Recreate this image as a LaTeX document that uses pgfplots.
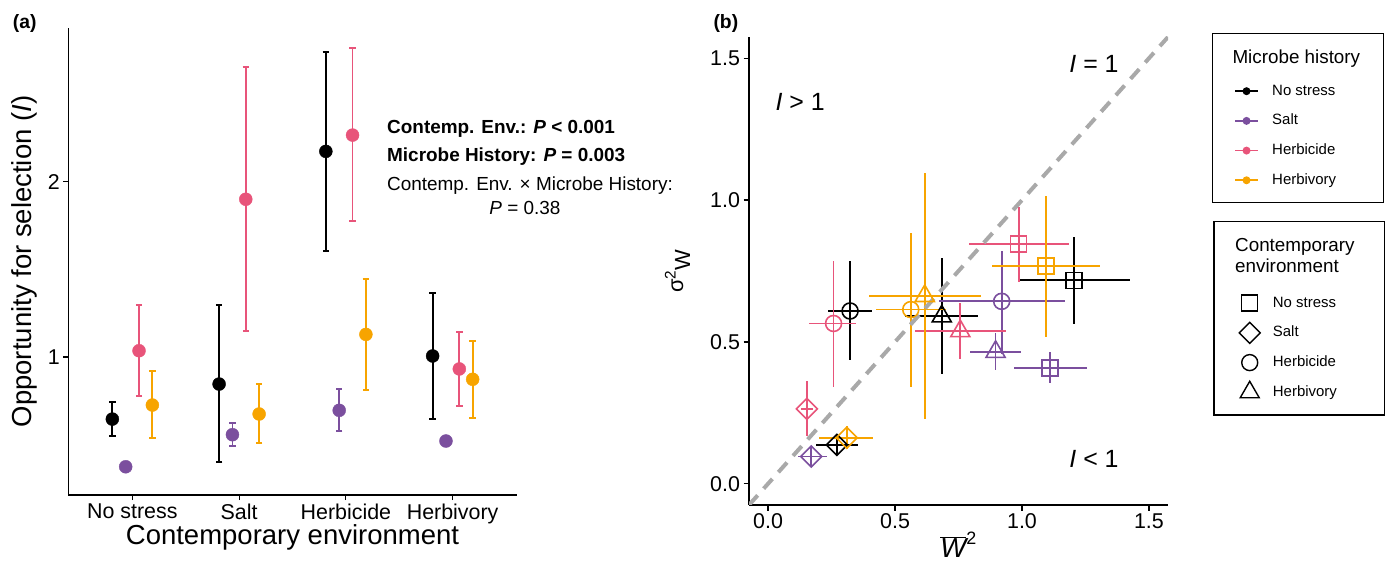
\documentclass[border=0pt]{standalone}
\usepackage{fontspec}
\setmainfont{Liberation Sans}
\usepackage{pgfplots}
\usepackage{pgfplotstable}
\pgfplotsset{compat=1.18}

\definecolor{hNo}{HTML}{000000}
\definecolor{hSalt}{HTML}{7B4F9E}
\definecolor{hHerb}{HTML}{E8547A}
\definecolor{hHbv}{HTML}{F7A400}
\definecolor{refline}{HTML}{A9A9A9}

\newcommand{\fs}[1]{\fontsize{#1}{#1}\selectfont}

% panel (a): opportunity for selection, per contemporary environment (1-4)
\pgfplotstableread{
env y lo hi
1 0.646 0.549 0.743
2 0.846 0.399 1.297
3 2.173 1.606 2.742
4 1.006 0.646 1.367
}\aNo
\pgfplotstableread{
env y lo hi
1 0.374 0.355 0.393
2 0.557 0.494 0.622
3 0.696 0.576 0.817
4 0.521 0.502 0.540
}\aSalt
\pgfplotstableread{
env y lo hi
1 1.036 0.778 1.298
2 1.900 1.147 2.654
3 2.266 1.778 2.761
4 0.932 0.720 1.141
}\aHerb
\pgfplotstableread{
env y lo hi
1 0.726 0.540 0.920
2 0.675 0.508 0.844
3 1.129 0.813 1.445
4 0.873 0.654 1.093
}\aHbv

% panel (b): rows = no stress, salt, herbicide, herbivory environment
\pgfplotstableread{
x y xlo xhi ylo yhi
1.204 0.717 0.987 1.424 0.562 0.869
0.271 0.137 0.190 0.355 0.100 0.172
0.323 0.609 0.238 0.408 0.436 0.785
0.684 0.590 0.541 0.828 0.386 0.797
}\bNo
\pgfplotstableread{
x y xlo xhi ylo yhi
1.111 0.409 0.968 1.255 0.354 0.463
0.170 0.096 0.116 0.231 0.059 0.134
0.920 0.643 0.673 1.169 0.459 0.819
0.896 0.465 0.794 0.996 0.401 0.530
}\bSalt
\pgfplotstableread{
x y xlo xhi ylo yhi
0.987 0.846 0.790 1.187 0.711 0.975
0.153 0.264 0.130 0.176 0.169 0.362
0.258 0.565 0.163 0.346 0.342 0.785
0.757 0.538 0.578 0.938 0.438 0.637
}\bHerb
\pgfplotstableread{
x y xlo xhi ylo yhi
1.094 0.767 0.883 1.306 0.518 1.015
0.310 0.162 0.201 0.414 0.122 0.204
0.562 0.614 0.425 0.702 0.342 0.883
0.617 0.662 0.397 0.837 0.228 1.094
}\bHbv

\pgfplotsset{
  table/aerr/.style={y=y, y error plus expr=\thisrow{hi}-\thisrow{y}, y error minus expr=\thisrow{y}-\thisrow{lo}},
  table/bxy/.style={x=x, y=y,
    x error plus expr=\thisrow{xhi}-\thisrow{x}, x error minus expr=\thisrow{x}-\thisrow{xlo},
    y error plus expr=\thisrow{yhi}-\thisrow{y}, y error minus expr=\thisrow{y}-\thisrow{ylo}},
  onlyrow/.style={x filter/.code={\ifnum\coordindex=#1\else\def\pgfmathresult{}\fi}},
  apt/.style={only marks, mark=*, mark size=6.5bp, line width=1.8bp,
    mark options={line width=0.4bp},
    error bars/.cd, y dir=both, y explicit,
    error bar style={line width=1.8bp},
    error mark options={line width=1.8bp, mark size=3.2bp, rotate=90},
    /pgfplots/.cd},
  bpt/.style={only marks, line width=1.6bp,
    error bars/.cd, x dir=both, y dir=both, x explicit, y explicit,
    error bar style={line width=1.8bp},
    error mark=none, /pgfplots/.cd},
  sq/.style={mark=square, mark size=8bp},
  dm/.style={mark=square, mark size=7.4bp, /tikz/every mark/.append style={rotate=45}},
  ci/.style={mark=o, mark size=8bp},
  tr/.style={mark=triangle, mark size=11bp},
}

\begin{document}
\begin{tikzpicture}[txt/.style={inner sep=0pt, anchor=base west}]
\useasboundingbox (0,0) rectangle (1392bp,561bp);

% ---------- panel (a)
\begin{axis}[
  at={(68.3bp,66bp)}, anchor=south west, scale only axis,
  width=448.4bp, height=467bp,
  xmin=0.4, xmax=4.6, ymin=0.213, ymax=2.877,
  axis lines=left, axis line style={-, line width=1.3bp},
  xtick={1,2,3,4}, xticklabels={No stress,Salt,Herbicide,Herbivory},
  ytick={1,2},
  tick align=outside, major tick length=5bp, tick style={line width=1.2bp, black},
  tick label style={font=\fs{21.5}},
  /pgf/number format/assume math mode=true,
  xlabel={Contemporary environment},
  ylabel={Opportunity for selection (\textit{I})},
  label style={font=\fs{27.6}},
  xlabel style={at={(axis description cs:0.5,-0.105)}, anchor=base},
  ylabel style={at={(axis description cs:-0.081,0.5)}, anchor=base},
  clip=false,
]
\addplot[apt, color=hNo]   table[aerr, x expr=\thisrow{env}-0.1875] {\aNo};
\addplot[apt, color=hSalt] table[aerr, x expr=\thisrow{env}-0.0625] {\aSalt};
\addplot[apt, color=hHerb] table[aerr, x expr=\thisrow{env}+0.0625] {\aHerb};
\addplot[apt, color=hHbv]  table[aerr, x expr=\thisrow{env}+0.1875] {\aHbv};
\end{axis}

\node[txt, font=\fs{19.4}\bfseries] at (12.7bp,532bp) {(a)};
\node[txt, font=\fs{19}\bfseries] at (387bp,427bp) {Contemp. Env.: \textit{P} < 0.001};
\node[txt, font=\fs{19}\bfseries] at (387bp,399bp) {Microbe History: \textit{P} = 0.003};
\node[txt, font=\fs{19}] at (387bp,370bp) {Contemp. Env. × Microbe History:};
\node[inner sep=0pt, anchor=base, font=\fs{19}] at (525bp,346bp) {\textit{P} = 0.38};

% ---------- panel (b)
\begin{axis}[
  at={(749bp,56bp)}, anchor=south west, scale only axis,
  width=419bp, height=468bp,
  xmin=-0.075, xmax=1.575, ymin=-0.075, ymax=1.575,
  axis lines=left, axis line style={-, line width=1.3bp},
  xtick={0,0.5,1,1.5}, ytick={0,0.5,1,1.5},
  tick align=outside, major tick length=5.5bp, tick style={line width=1.2bp, black},
  tick label style={font=\fs{21.5}},
  /pgf/number format/assume math mode=true,
  /pgf/number format/fixed, /pgf/number format/fixed zerofill, /pgf/number format/precision=1,
  xlabel={$\overline{\mbox{\itshape W}}^{\mbox{\fs{18}2}}$},
  ylabel={σ\textsuperscript{2}\raisebox{-7bp}{W}},
  xlabel style={font=\fs{27.6}, at={(axis description cs:0.5,-0.113)}, anchor=base},
  ylabel style={font=\fs{22}, at={(axis description cs:-0.1575,0.5)}, anchor=base},
]
\addplot[bpt, color=hNo, sq, onlyrow=0] table[bxy] {\bNo};
\addplot[bpt, color=hNo, dm, onlyrow=1] table[bxy] {\bNo};
\addplot[bpt, color=hNo, ci, onlyrow=2] table[bxy] {\bNo};
\addplot[bpt, color=hNo, tr, onlyrow=3] table[bxy] {\bNo};
\addplot[bpt, color=hSalt, sq, onlyrow=0] table[bxy] {\bSalt};
\addplot[bpt, color=hSalt, dm, onlyrow=1] table[bxy] {\bSalt};
\addplot[bpt, color=hSalt, ci, onlyrow=2] table[bxy] {\bSalt};
\addplot[bpt, color=hSalt, tr, onlyrow=3] table[bxy] {\bSalt};
\addplot[bpt, color=hHerb, sq, onlyrow=0] table[bxy] {\bHerb};
\addplot[bpt, color=hHerb, dm, onlyrow=1] table[bxy] {\bHerb};
\addplot[bpt, color=hHerb, ci, onlyrow=2] table[bxy] {\bHerb};
\addplot[bpt, color=hHerb, tr, onlyrow=3] table[bxy] {\bHerb};
\addplot[bpt, color=hHbv, sq, onlyrow=0] table[bxy] {\bHbv};
\addplot[bpt, color=hHbv, dm, onlyrow=1] table[bxy] {\bHbv};
\addplot[bpt, color=hHbv, ci, onlyrow=2] table[bxy] {\bHbv};
\addplot[bpt, color=hHbv, tr, onlyrow=3] table[bxy] {\bHbv};
\addplot[refline, line width=4bp, dash pattern=on 13bp off 9bp, no marks] coordinates {(-0.075,-0.075) (1.575,1.575)};
\node[txt, font=\fs{25}] at (axis cs:1.186,1.449) {\textit{I} = 1};
\node[txt, font=\fs{25}] at (axis cs:0.029,1.315) {\textit{I} > 1};
\node[txt, font=\fs{25}] at (axis cs:1.186,0.056) {\textit{I} < 1};
\end{axis}

\node[txt, font=\fs{19.4}\bfseries] at (713.3bp,532bp) {(b)};

% ---------- legends
\draw[line width=1.3bp] (1212.7bp,358.3bp) rectangle (1383.3bp,527.7bp);
\node[txt, font=\fs{18.9}] at (1232.3bp,497.5bp) {Microbe history};
\draw[line width=1.3bp] (1214bp,146bp) rectangle (1384.3bp,339.3bp);
\node[txt, font=\fs{18.9}] at (1235bp,309bp) {Contemporary};
\node[txt, font=\fs{18.9}] at (1235bp,288bp) {environment};

\begin{axis}[
  at={(0bp,0bp)}, anchor=south west, scale only axis, width=1392bp, height=561bp,
  xmin=0, xmax=1392, ymin=0, ymax=561, hide axis,
  legend cell align=left,
  legend style={at={(axis cs:1234,477)}, anchor=north west, draw=none, fill=none,
    inner sep=0pt, row sep=15.7bp, font=\fs{15},
    nodes={inner sep=0pt, text height=11bp, text depth=3bp},
    /tikz/every odd column/.append style={column sep=13.4bp}},
  legend image code/.code={
    \draw[#1] (0bp,0bp) -- (23bp,0bp);
    \fill[#1, draw=none] (11.5bp,0bp) circle (4bp);},
]
\addlegendimage{color=hNo, line width=1.6bp}
\addlegendentry{No stress}
\addlegendimage{color=hSalt, line width=1.6bp}
\addlegendentry{Salt}
\addlegendimage{color=hHerb, line width=1.6bp}
\addlegendentry{Herbicide}
\addlegendimage{color=hHbv, line width=1.6bp}
\addlegendentry{Herbivory}
\end{axis}

\begin{axis}[
  at={(0bp,0bp)}, anchor=south west, scale only axis, width=1392bp, height=561bp,
  xmin=0, xmax=1392, ymin=0, ymax=561, hide axis,
  legend cell align=left,
  legend style={at={(axis cs:1238,265)}, anchor=north west, draw=none, fill=none,
    inner sep=0pt, row sep=15.7bp, font=\fs{15},
    nodes={inner sep=0pt, text height=11bp, text depth=3bp},
    /tikz/every odd column/.append style={column sep=11.7bp}},
  legend image code/.code={
    \path[draw=none, fill=none] (0bp,-5bp) rectangle (23bp,5bp);
    \begin{pgfinterruptboundingbox}
    \draw[#1, draw=none] plot[only marks] coordinates {(11.5bp,0bp)};
    \end{pgfinterruptboundingbox}},
]
\addlegendimage{black, line width=1.4bp, sq}
\addlegendentry{No stress}
\addlegendimage{black, line width=1.4bp, dm}
\addlegendentry{Salt}
\addlegendimage{black, line width=1.4bp, ci}
\addlegendentry{Herbicide}
\addlegendimage{black, line width=1.4bp, tr}
\addlegendentry{Herbivory}
\end{axis}
\end{tikzpicture}
\end{document}
